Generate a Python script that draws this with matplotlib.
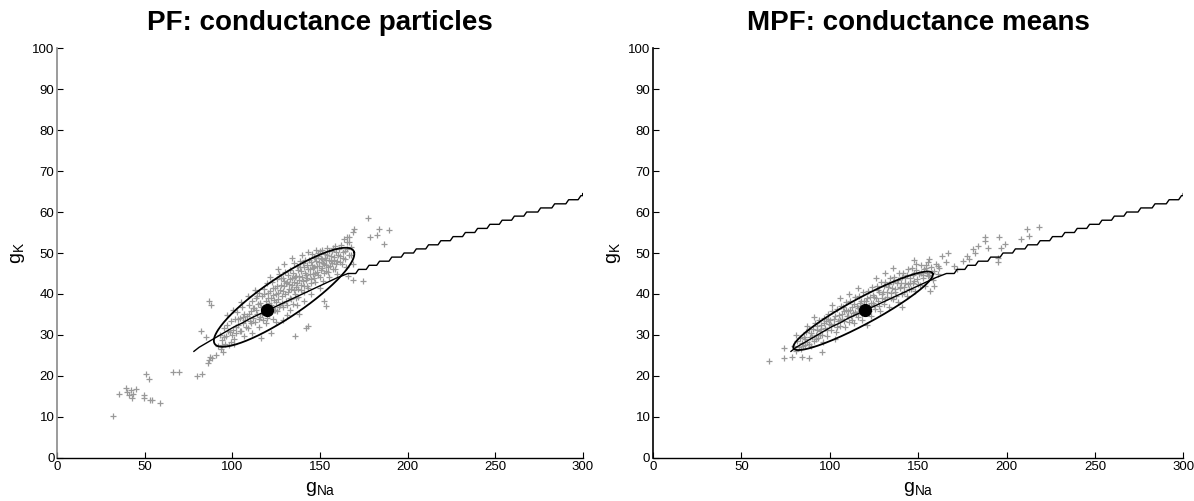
import numpy as np
import matplotlib
matplotlib.use('Agg')
import matplotlib.pyplot as plt

plt.rcParams['font.family'] = ['Liberation Sans', 'DejaVu Sans']

# -----------------------
# data
# -----------------------
# mean trajectory: x where g_K steps up, and the level after the step
stair_x = [78, 81, 85, 89, 93, 97, 101, 106, 110, 115, 120, 125, 130, 135, 140, 145,
           150, 155, 160, 166, 172, 178, 184, 191, 198, 205, 212, 219, 226, 233, 240,
           247, 254, 261, 268, 276, 284, 292, 299, 300]
stair_y = [26, 27, 28, 29, 30, 31, 32, 33, 34, 35, 36, 37, 38, 39, 40, 41,
           42, 43, 44, 45, 46, 47, 48, 49, 50, 51, 52, 53, 54, 55, 56,
           57, 58, 59, 60, 61, 62, 63, 64, 64.5]
smooth_until = 166   # below this the steps are too fine to see

true_gna = 120
true_gk = 36

# covariance ellipses: centre, major half-axis, minor half-axis (data units)
pf_ell_center = [129.5, 39.2]
pf_ell_major = [40.0, 11.0]
pf_ell_minor = [-3.0, 5.0]
mpf_ell_center = [118.8, 35.9]
mpf_ell_major = [39.5, 9.0]
mpf_ell_minor = [-1.4, 3.3]

# PF particles (g_Na, g_K)
pf_pts = [
    (91.5, 27.2), (92.8, 30.1), (93.4, 26.5), (94.1, 28.8), (95.0, 31.6), (95.6, 27.9), (94.7, 25.9),
    (96.3, 29.7), (97.1, 32.4), (97.8, 27.6), (98.4, 30.8), (99.2, 33.5), (98.9, 28.4), (96.8, 34.8),
    (100.2, 31.2), (100.9, 29.1), (101.5, 33.8), (102.3, 30.5), (102.8, 35.6), (101.1, 27.9), (103.4, 32.4), (100.5, 36.2),
    (104.1, 31.0), (104.6, 34.1), (105.3, 36.8), (105.9, 32.9), (106.4, 29.8), (106.8, 35.2), (107.3, 33.6), (104.9, 38.1),
    (108.2, 34.7), (108.7, 31.8), (109.3, 37.2), (109.8, 33.3), (110.4, 35.9), (110.9, 30.6), (111.3, 38.4), (111.6, 34.2), (108.9, 39.5),
    (112.2, 36.5), (112.7, 33.1), (113.3, 38.9), (113.8, 35.0), (114.4, 37.6), (114.9, 31.9), (115.3, 40.2), (115.6, 34.5), (112.9, 41.0),
    (116.2, 36.9), (116.7, 39.4), (117.3, 33.7), (117.8, 41.2), (118.4, 35.8), (118.9, 38.2), (119.4, 32.8), (119.7, 42.6), (116.5, 29.2),
    (120.3, 38.9), (120.8, 35.1), (121.4, 40.7), (121.9, 37.3), (122.5, 42.9), (122.9, 34.0), (123.4, 39.8), (123.7, 36.2), (121.2, 44.1), (122.0, 30.4),
    (124.2, 41.4), (124.6, 38.1), (125.2, 43.6), (125.7, 35.9), (126.3, 40.2), (126.8, 44.8), (127.2, 37.4), (127.6, 42.3), (125.0, 33.2), (126.1, 46.0),
    (128.2, 39.6), (128.6, 43.8), (129.1, 36.8), (129.6, 41.9), (130.2, 45.4), (130.6, 38.3), (131.1, 43.0), (131.5, 40.4), (129.4, 47.2), (130.9, 34.9), (128.8, 33.6),
    (132.1, 42.5), (132.6, 39.1), (133.1, 45.9), (133.5, 41.2), (134.0, 44.0), (134.4, 37.6), (134.9, 47.6), (135.3, 42.9), (132.9, 36.1), (135.7, 40.0), (133.8, 48.9),
    (136.1, 44.4), (136.5, 41.6), (137.0, 46.8), (137.5, 39.3), (138.0, 43.5), (138.4, 48.1), (138.9, 41.0), (139.3, 45.5), (136.8, 37.2), (139.7, 49.6), (137.8, 35.0),
    (140.2, 43.1), (140.6, 46.5), (141.1, 40.6), (141.6, 48.4), (142.0, 44.7), (142.5, 42.0), (142.9, 50.2), (143.4, 46.1), (140.8, 38.2), (143.0, 32.2), (141.9, 31.8),
    (144.2, 44.9), (144.6, 47.8), (145.1, 42.6), (145.6, 49.7), (146.0, 46.3), (146.5, 43.8), (146.9, 48.9), (147.4, 45.2), (144.8, 40.1), (147.7, 50.8),
    (148.2, 46.9), (148.7, 49.2), (149.1, 44.6), (149.6, 47.9), (150.1, 50.5), (150.5, 45.8), (151.0, 48.6), (151.5, 43.2), (149.8, 41.5),
    (152.2, 47.3), (152.7, 49.8), (153.2, 45.6), (153.6, 48.4), (154.1, 51.2), (154.6, 46.7), (155.0, 44.1), (153.3, 37.0), (152.4, 38.3),
    (156.2, 48.0), (156.8, 50.4), (157.3, 46.2), (157.9, 49.1), (158.4, 51.8), (159.0, 47.3), (159.5, 44.8),
    (160.3, 49.6), (161.2, 47.8), (162.1, 52.0), (163.0, 48.9), (164.0, 50.6), (165.0, 46.5), (163.5, 53.4), (165.5, 52.7),
    (166.4, 54.0), (167.5, 49.4), (168.6, 47.2), (169.2, 55.9), (169.0, 55.2), (166.0, 44.5),
    # denser core
    (113.5, 36.0), (114.2, 39.5), (115.0, 33.8), (116.0, 37.9), (117.0, 35.2), (118.0, 39.9), (119.0, 36.5), (119.8, 34.1),
    (120.5, 40.2), (121.0, 37.8), (121.7, 35.6), (122.3, 39.1), (123.0, 41.5), (123.8, 38.5), (124.4, 36.0), (124.9, 39.9),
    (125.5, 42.0), (126.0, 38.7), (126.6, 36.8), (127.0, 41.0), (127.8, 44.0), (128.3, 37.9), (128.9, 40.8), (129.5, 43.2),
    (130.0, 39.9), (130.4, 42.7), (131.0, 37.2), (131.6, 44.6), (132.2, 41.3), (132.8, 43.7), (133.2, 38.8), (133.9, 42.2),
    (134.5, 45.1), (135.0, 40.9), (135.6, 44.2), (136.2, 39.0), (136.7, 42.8), (137.2, 45.8), (137.7, 41.2), (138.2, 44.4),
    (138.7, 46.6), (139.1, 42.3), (139.8, 44.1), (140.4, 47.5), (140.9, 41.9), (141.4, 45.2), (141.9, 43.3), (142.3, 47.1),
    (142.8, 44.0), (143.2, 41.5), (143.8, 48.3), (144.3, 46.2), (144.9, 43.6), (145.4, 47.1), (145.9, 44.9), (146.3, 49.0),
    (146.8, 46.6), (147.3, 43.0), (147.9, 48.0), (148.4, 45.4), (148.9, 50.0), (149.4, 46.9), (149.9, 44.2), (150.4, 48.9),
    (150.9, 46.4), (151.3, 50.7), (151.8, 47.6), (152.3, 45.0), (152.9, 48.9), (153.4, 47.0), (153.9, 49.6), (154.4, 45.4),
    (154.9, 48.3), (155.4, 50.4), (155.9, 46.9), (156.5, 49.3), (157.0, 47.5), (157.6, 51.1), (158.1, 48.4), (158.7, 46.0),
    (159.3, 50.2), (159.8, 48.1), (160.7, 51.0), (161.6, 49.2), (162.5, 47.3), (163.4, 50.3), (164.4, 48.6), (165.2, 50.9),
    (166.8, 49.6), (167.7, 51.4), (110.5, 33.0), (111.8, 36.7), (109.5, 35.0), (107.6, 32.0), (106.0, 34.4), (103.0, 34.0),
    (99.8, 30.0), (97.5, 31.0), (95.3, 29.4), (93.8, 27.6), (101.8, 32.0), (105.0, 30.9),
    # outliers
    (32.0, 10.2), (35.3, 15.5), (39.0, 17.1), (39.6, 16.1), (42.3, 16.5), (43.4, 15.7), (44.9, 16.9),
    (41.2, 15.3), (42.7, 14.7), (49.5, 15.3), (49.5, 14.7), (50.6, 20.5), (52.6, 19.3), (54.3, 14.1),
    (53.2, 14.1), (58.7, 13.3), (66.3, 20.9), (69.6, 20.9), (79.5, 19.9), (82.8, 20.5), (86.0, 23.1),
    (86.7, 23.9), (87.1, 24.6), (88.2, 24.4), (90.4, 25.0), (86.5, 38.2), (87.8, 37.3), (82.1, 31.0),
    (85.0, 29.4), (136.0, 29.8), (177.6, 58.5), (183.5, 55.9), (182.4, 54.3), (189.4, 55.7),
    (178.5, 53.9), (186.8, 52.3), (174.7, 43.1), (169.0, 43.5), (165.5, 54.0), (166.4, 52.7),
]

# MPF means (g_Na, g_K)
mpf_pts = [
    (79.5, 27.4), (80.8, 26.2), (81.5, 28.6), (82.3, 27.0), (83.1, 29.3), (83.8, 26.5), (81.0, 30.1), (84.4, 28.1),
    (85.2, 29.5), (85.9, 27.5), (86.6, 30.8), (87.3, 28.4), (88.0, 31.5), (88.6, 29.6), (89.2, 27.3), (87.0, 32.2), (89.6, 30.4),
    (90.3, 31.4), (90.9, 28.5), (91.6, 33.0), (92.2, 30.1), (92.9, 32.1), (93.5, 29.2), (94.1, 33.6), (94.6, 31.0), (91.2, 34.5),
    (95.2, 32.5), (95.8, 30.0), (96.5, 34.2), (97.1, 31.6), (97.8, 33.4), (98.4, 29.8), (99.0, 35.2), (99.5, 32.6), (96.0, 28.4),
    (100.2, 33.6), (100.8, 31.2), (101.5, 35.8), (102.1, 32.7), (102.8, 34.6), (103.4, 30.8), (104.0, 36.4), (104.5, 33.5), (101.0, 37.2), (103.0, 28.9),
    (105.2, 34.8), (105.8, 32.3), (106.5, 37.1), (107.1, 33.9), (107.8, 35.9), (108.4, 31.9), (109.0, 38.0), (109.5, 34.6), (106.0, 39.0),
    (110.2, 35.9), (110.8, 33.1), (111.5, 38.4), (112.1, 34.7), (112.8, 36.9), (113.4, 32.9), (114.0, 39.3), (114.5, 35.6), (111.0, 40.0),
    (115.2, 37.0), (115.8, 34.3), (116.5, 39.6), (117.1, 35.8), (117.8, 38.2), (118.4, 33.6), (119.0, 40.4), (119.5, 36.8), (116.0, 41.5),
    (120.2, 38.2), (120.8, 35.3), (121.5, 40.8), (122.1, 37.0), (122.8, 39.3), (123.4, 34.6), (124.0, 41.7), (124.5, 37.9), (121.0, 32.5),
    (125.2, 39.2), (125.8, 36.4), (126.5, 41.9), (127.1, 38.2), (127.8, 40.4), (128.4, 35.8), (129.0, 42.9), (129.5, 39.1), (126.0, 43.8),
    (130.2, 40.4), (130.8, 37.5), (131.5, 43.0), (132.1, 39.3), (132.8, 41.6), (133.4, 36.9), (134.0, 44.0), (134.5, 40.2), (131.0, 45.0),
    (135.2, 41.5), (135.8, 38.7), (136.5, 44.1), (137.1, 40.4), (137.8, 42.7), (138.4, 38.1), (139.0, 45.1), (139.5, 41.4), (136.0, 46.3),
    (140.2, 42.6), (140.8, 39.9), (141.5, 45.2), (142.1, 41.6), (142.8, 43.9), (143.4, 39.4), (144.0, 46.2), (144.5, 42.5), (141.0, 36.8),
    (145.2, 43.8), (145.8, 41.1), (146.5, 46.3), (147.1, 42.8), (147.8, 45.0), (148.4, 40.7), (149.0, 47.2), (149.5, 43.7), (147.5, 48.3),
    (150.3, 44.8), (151.0, 42.3), (151.8, 47.0), (152.5, 43.9), (153.3, 46.0), (154.0, 42.0), (154.8, 45.1), (155.5, 47.8),
    (156.4, 44.6), (157.3, 46.5), (158.2, 43.3), (159.1, 45.7), (160.0, 47.3), (161.0, 44.9), (162.0, 46.3),
    # denser core
    (90.0, 29.6), (92.5, 31.2), (94.5, 30.0), (96.8, 32.9), (98.6, 31.3), (100.5, 32.4), (102.4, 33.8), (103.8, 31.9),
    (105.5, 33.6), (106.8, 35.1), (108.0, 33.4), (109.2, 36.0), (110.5, 34.7), (111.6, 36.2), (112.5, 33.6), (113.7, 37.5),
    (114.8, 35.1), (115.9, 36.6), (117.0, 37.9), (118.0, 35.0), (119.2, 38.2), (120.0, 36.9), (121.2, 39.1), (122.3, 35.9),
    (123.2, 37.9), (124.2, 39.8), (125.0, 37.3), (126.2, 38.9), (127.3, 40.9), (128.1, 37.1), (129.3, 40.0), (130.5, 41.9),
    (131.3, 38.7), (132.4, 40.6), (133.6, 42.5), (134.6, 39.0), (135.5, 43.0), (136.7, 41.2), (137.5, 39.6), (138.7, 43.3),
    (139.8, 41.6), (140.6, 44.2), (141.8, 40.5), (142.6, 42.6), (143.8, 44.6), (144.8, 41.3), (145.6, 42.6), (146.8, 44.7),
    (147.9, 43.1), (148.7, 45.9), (149.8, 42.5), (151.4, 45.2), (152.9, 44.6), (154.4, 46.4), (155.8, 44.3), (157.6, 45.2),
    (84.6, 27.2), (86.2, 28.9), (88.2, 27.8), (91.9, 29.0), (95.0, 31.5), (99.2, 33.9), (107.4, 36.8), (113.0, 35.4),
    # outliers / tail along the trajectory
    (65.6, 23.6), (73.9, 24.4), (74.3, 26.7), (78.6, 24.7), (84.1, 24.7), (88.4, 24.3), (95.6, 25.9),
    (211.8, 55.9), (218.1, 56.3), (207.9, 53.4), (196.0, 54.0), (187.9, 53.8), (187.9, 53.0),
    (184.0, 51.6), (180.8, 50.9), (181.9, 50.1), (177.5, 49.3), (175.3, 48.1), (194.9, 47.7),
    (194.9, 48.9), (199.2, 52.1), (197.0, 51.3), (212.9, 54.2), (165.5, 47.7), (170.0, 46.9),
    (161.2, 46.9), (166.6, 50.1), (163.4, 49.3), (172.0, 46.1), (178.6, 48.5), (189.4, 51.3),
    (154.7, 47.0), (156.4, 48.5), (159.0, 42.0), (156.9, 40.8),
]

titles = ['PF: conductance particles', 'MPF: conductance means']
x_ticks = [0, 50, 100, 150, 200, 250, 300]
y_ticks = [0, 10, 20, 30, 40, 50, 60, 70, 80, 90, 100]


def ellipse_curve(center, major, minor, n=200):
    t = np.linspace(0, 2 * np.pi, n)
    ex = center[0] + major[0] * np.cos(t) + minor[0] * np.sin(t)
    ey = center[1] + major[1] * np.cos(t) + minor[1] * np.sin(t)
    return ex, ey


def trajectory_path():
    # fine part drawn as a plain line, coarse part as steps with a short slanted riser
    px, py = [], []
    for i in range(len(stair_x) - 1):
        x0, x1, y0 = stair_x[i], stair_x[i + 1], stair_y[i]
        if x0 < smooth_until:
            px.append(x0)
            py.append(y0)
        elif x1 - x0 > 2:
            px += [x0, x1 - 1.6]
            py += [y0, y0]
        else:
            px += [x0, x1]
            py += [y0, y0]
    px.append(stair_x[-1])
    py.append(stair_y[-1])
    return px, py


def draw_panel(ax, pts, center, major, minor, title, left_color):
    pts = np.array(pts)
    ax.plot(pts[:, 0], pts[:, 1], '+', color='#999999', markersize=3.8, mew=0.9, zorder=1)
    tx, ty = trajectory_path()
    ax.plot(tx, ty, color='black', lw=1.0, zorder=2)
    ex, ey = ellipse_curve(center, major, minor)
    ax.plot(ex, ey, color='black', lw=1.3, zorder=3)
    ax.plot([true_gna], [true_gk], 'o', color='black', markersize=8.5, zorder=4)

    ax.set_xlim(0, 300)
    ax.set_ylim(0, 100)
    ax.set_xticks(x_ticks)
    ax.set_yticks(y_ticks)
    ax.tick_params(direction='in', length=4, width=0.8, labelsize=9.5, pad=2)
    ax.spines['top'].set_visible(False)
    ax.spines['right'].set_visible(False)
    ax.spines['left'].set_color(left_color)
    ax.spines['left'].set_linewidth(1.2)
    ax.spines['bottom'].set_linewidth(1.0)
    ax.set_title(title, fontsize=20, fontweight='bold', pad=13)
    ax.set_xlabel(r'$\mathregular{g_{Na}}$', fontsize=14, labelpad=5)
    ax.set_ylabel(r'$\mathregular{g_K}$', fontsize=14, labelpad=4)


fig = plt.figure(figsize=(11.94, 5.01), dpi=100)
ax1 = fig.add_axes([0.048, 0.086, 0.440, 0.818])
ax2 = fig.add_axes([0.547, 0.086, 0.444, 0.818])

draw_panel(ax1, pf_pts, pf_ell_center, pf_ell_major, pf_ell_minor, titles[0], '#8a8a8a')
draw_panel(ax2, mpf_pts, mpf_ell_center, mpf_ell_major, mpf_ell_minor, titles[1], 'black')

fig.savefig('out.png', dpi=100)
